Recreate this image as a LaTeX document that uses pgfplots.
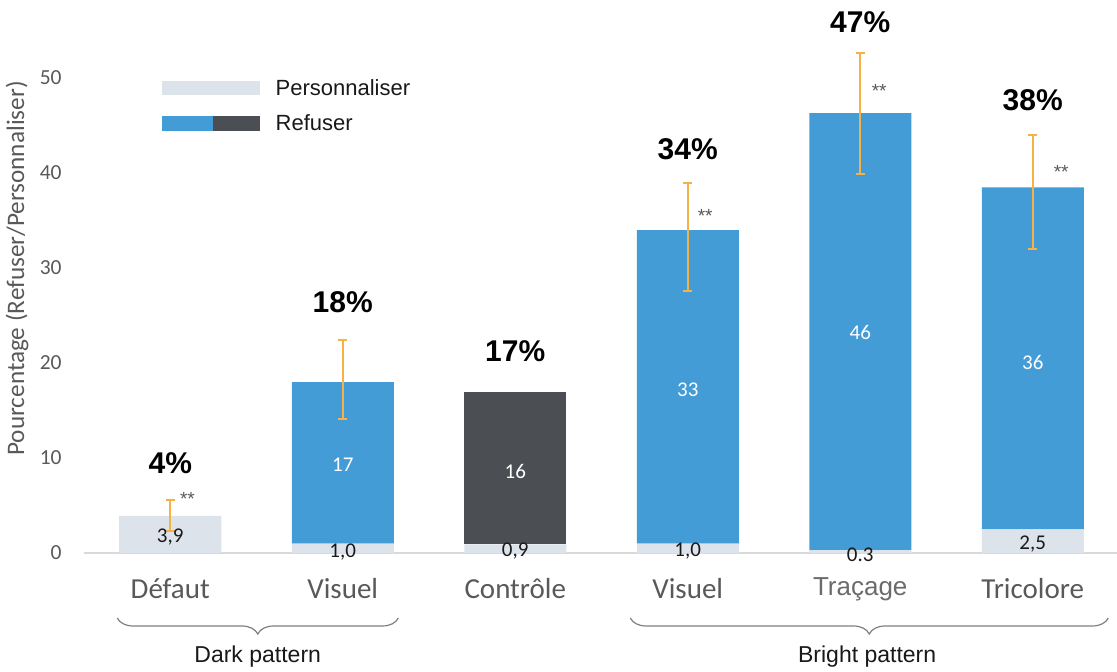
\documentclass[border=0pt]{standalone}
\usepackage{fontspec}
\setmainfont{Liberation Sans}
\newfontfamily\carl{Carlito}
\usepackage{pgfplots}
\pgfplotsset{compat=1.18}
\usetikzlibrary{decorations.pathreplacing}
\definecolor{cPers}{HTML}{DCE3EA}
\definecolor{cBlue}{HTML}{449CD6}
\definecolor{cDark}{HTML}{4B4E53}
\definecolor{cOrange}{HTML}{F5B247}
\definecolor{cTick}{HTML}{595959}
\definecolor{cTickB}{HTML}{6B6B6B}
\definecolor{cAxis}{HTML}{D9D9D9}
\definecolor{cBrace}{HTML}{7F7F7F}
\pgfplotsset{commonaxis/.style={
  at={(0,0)}, anchor=south west, scale only axis,
  width=517.5pt, height=261.25pt,
  xmin=-0.5, xmax=5.5, ymin=0, ymax=55, clip=false}}
\begin{document}
\begin{tikzpicture}
\useasboundingbox (-42pt,-59pt) rectangle (516.5pt,276.5pt);
\begin{axis}[commonaxis,
  ybar stacked, bar width=51pt,
  axis x line*=bottom, axis y line*=left,
  x axis line style={draw=cAxis, line width=0.8pt, -},
  y axis line style={draw=none},
  major tick length=0pt,
  xtick={0,1,2,3,4,5},
  xticklabels={D\'efaut,Visuel,Contr\^ole,Visuel,{\rmfamily\fontsize{13}{15}\selectfont\color{cTickB}\raisebox{1.5pt}{Traçage}},Tricolore},
  xticklabel style={font=\carl\fontsize{14.5}{17}\selectfont, text=cTick, anchor=base, yshift=-22.5pt},
  ytick={0,10,20,30,40,50},
  /pgf/number format/assume math mode=true,
  yticklabel style={font=\carl\fontsize{10.75}{13}\selectfont, text=cTick, anchor=east, inner sep=0pt, xshift=-11pt},
]
\addplot[fill=cPers, draw=none] coordinates {(0,3.9) (1,1.0) (2,0.9) (3,1.0) (4,0.3) (5,2.5)};
\addplot[fill=cBlue, draw=none] coordinates {(0,0) (1,17) (2,0) (3,33) (4,46) (5,36)};
\addplot[fill=cDark, draw=none] coordinates {(0,0) (1,0) (2,16) (3,0) (4,0) (5,0)};

% legend
\fill[cPers] (axis cs:-0.0464,48.21) rectangle (axis cs:0.5217,49.68);
\fill[cBlue] (axis cs:-0.0464,44.42) rectangle (axis cs:0.249,46.0);
\fill[cDark] (axis cs:0.249,44.42) rectangle (axis cs:0.5217,46.0);
\node[anchor=west, inner sep=0pt, font=\fontsize{11}{13}\selectfont, text=black!90] at (axis cs:0.6087,48.95) {Personnaliser};
\node[anchor=west, inner sep=0pt, font=\fontsize{11}{13}\selectfont, text=black!90] at (axis cs:0.6087,45.26) {Refuser};

% y label
\node[rotate=90, font=\carl\fontsize{12.6}{14}\selectfont, text=cTick] at (axis description cs:-0.0647,0.5445) {Pourcentage (Refuser/Personnaliser)};

% braces
\draw[cBrace, line width=0.6pt, decorate, decoration={brace, amplitude=8pt, mirror}] (axis cs:-0.307,-6.84) -- (axis cs:1.322,-6.84);
\draw[cBrace, line width=0.6pt, decorate, decoration={brace, amplitude=8pt, mirror}] (axis cs:2.667,-6.84) -- (axis cs:5.438,-6.84);
\node[font=\fontsize{11.5}{13}\selectfont, text=black!90] at (axis cs:0.507,-10.95) {Dark pattern};
\node[font=\fontsize{11.5}{13}\selectfont, text=black!90] at (axis cs:4.04,-10.95) {Bright pattern};
\end{axis}

\begin{axis}[commonaxis, hide axis]
\addplot[draw=none, mark=none,
  error bars/.cd, y dir=both, y explicit,
  error bar style={draw=cOrange, line width=1pt},
  error mark options={draw=cOrange, line width=1pt, mark size=2.25pt, rotate=90}]
  coordinates {
  (0,3.9) += (0,1.7) -= (0,1.6)
  (1,18.0) += (0,4.4) -= (0,3.9)
  (3,34.0) += (0,5.0) -= (0,6.4)
  (4,46.3) += (0,6.3) -= (0,6.4)
  (5,38.5) += (0,5.5) -= (0,6.5)
  };

% percentages
\begin{scope}[every node/.style={font=\bfseries\fontsize{15}{17}\selectfont, text=black}]
\node at (axis cs:0,9.5) {4\%};
\node at (axis cs:1,26.4) {18\%};
\node at (axis cs:2,21.2) {17\%};
\node at (axis cs:3,42.5) {34\%};
\node at (axis cs:4,55.9) {47\%};
\node at (axis cs:5,47.7) {38\%};
\end{scope}

% values inside bars
\begin{scope}[every node/.style={font=\carl\fontsize{10.5}{12}\selectfont, text=white}]
\node at (axis cs:1,9.3) {17};
\node at (axis cs:2,8.6) {16};
\node at (axis cs:3,17.2) {33};
\node at (axis cs:4,23.2) {46};
\node at (axis cs:5,20.1) {36};
\end{scope}
\begin{scope}[every node/.style={font=\carl\fontsize{10.5}{12}\selectfont, text=black!90}]
\node at (axis cs:0,1.7) {3,9};
\node at (axis cs:1,0.1) {1,0};
\node at (axis cs:2,0.2) {0,9};
\node at (axis cs:3,0.2) {1,0};
\node at (axis cs:4,-0.2) {0.3};
\node at (axis cs:5,0.9) {2,5};
\end{scope}

% significance stars
\begin{scope}[every node/.style={font=\fontsize{9.5}{11}\selectfont, text=cTick}]
\node at (axis cs:0.1,5.7) {**};
\node at (axis cs:3.101,35.5) {**};
\node at (axis cs:4.110,48.6) {**};
\node at (axis cs:5.165,40.1) {**};
\end{scope}
\end{axis}
\end{tikzpicture}
\end{document}
